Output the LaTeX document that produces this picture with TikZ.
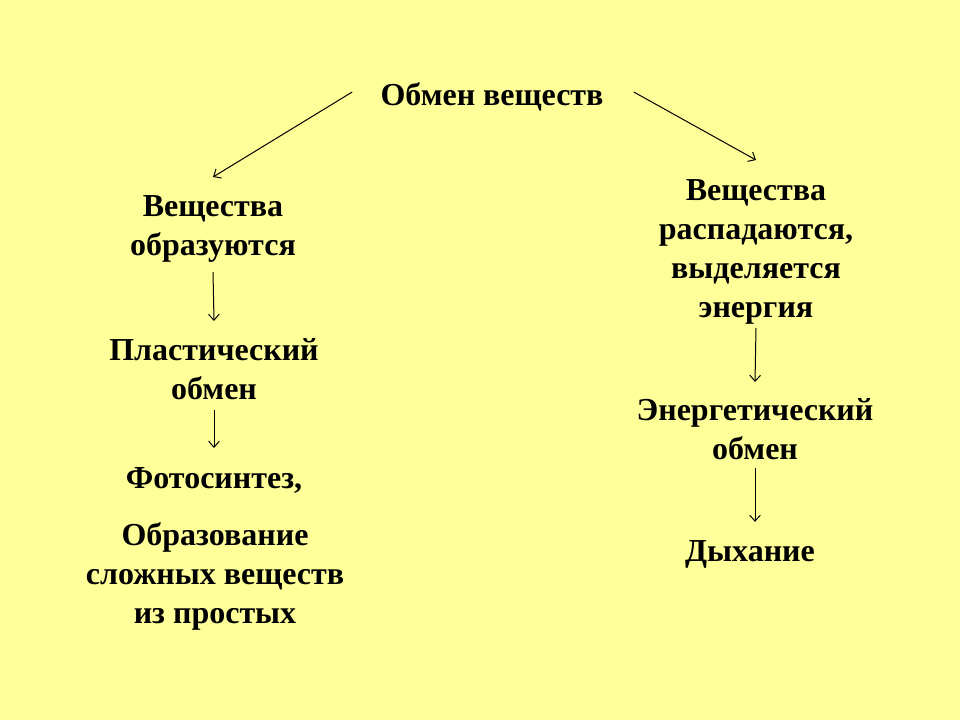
\documentclass[tikz,border=0pt]{standalone}
\usepackage{fontspec}
\setmainfont{Liberation Serif}
\usetikzlibrary{arrows.meta}
\definecolor{bgyellow}{RGB}{255,255,153}
\tikzset{
  lbl/.style={font=\bfseries\fontsize{24}{29.25}\selectfont, align=center, inner sep=0pt},
  arr/.style={draw=black, line width=0.75pt, -{Straight Barb[length=4.5pt,width=8pt]}}
}
\begin{document}
\begin{tikzpicture}[x=0.75pt,y=-0.75pt]
\fill[bgyellow] (0,0) rectangle (960,720);
\useasboundingbox (0,0) rectangle (960,720);
\node[lbl] (title) at (492,97) {Обмен веществ};
\node[lbl] (form) at (213,229) {Вещества\\образуются};
\node[lbl] (decay) at (756,252) {Вещества\\распадаются,\\выделяется\\энергия};
\node[lbl] (plast) at (214,369) {Пластический\\обмен};
\node[lbl] (energ) at (755,429) {Энергетический\\обмен};
\node[lbl] (photo) at (214,480) {Фотосинтез,};
\node[lbl] (build) at (215,576) {Образование\\сложных веществ\\из простых};
\node[lbl] (breath) at (750,554) {Дыхание};
\draw[arr] ([shift={(-28,-5)}]title.west) -- (form.north |- 0,177);
\draw[arr] ([shift={(30,-5)}]title.east) -- (decay.north |- 0,160);
\draw[arr] (form |- 0,272) -- (plast |- 0,321);
\draw[arr] (plast |- 0,410) -- (photo |- 0,448);
\draw[arr] (decay |- 0,328) -- (energ |- 0,382);
\draw[arr, shorten >=13.5pt] (energ |- 0,468) -- (breath.north -| energ);
\end{tikzpicture}
\end{document}
